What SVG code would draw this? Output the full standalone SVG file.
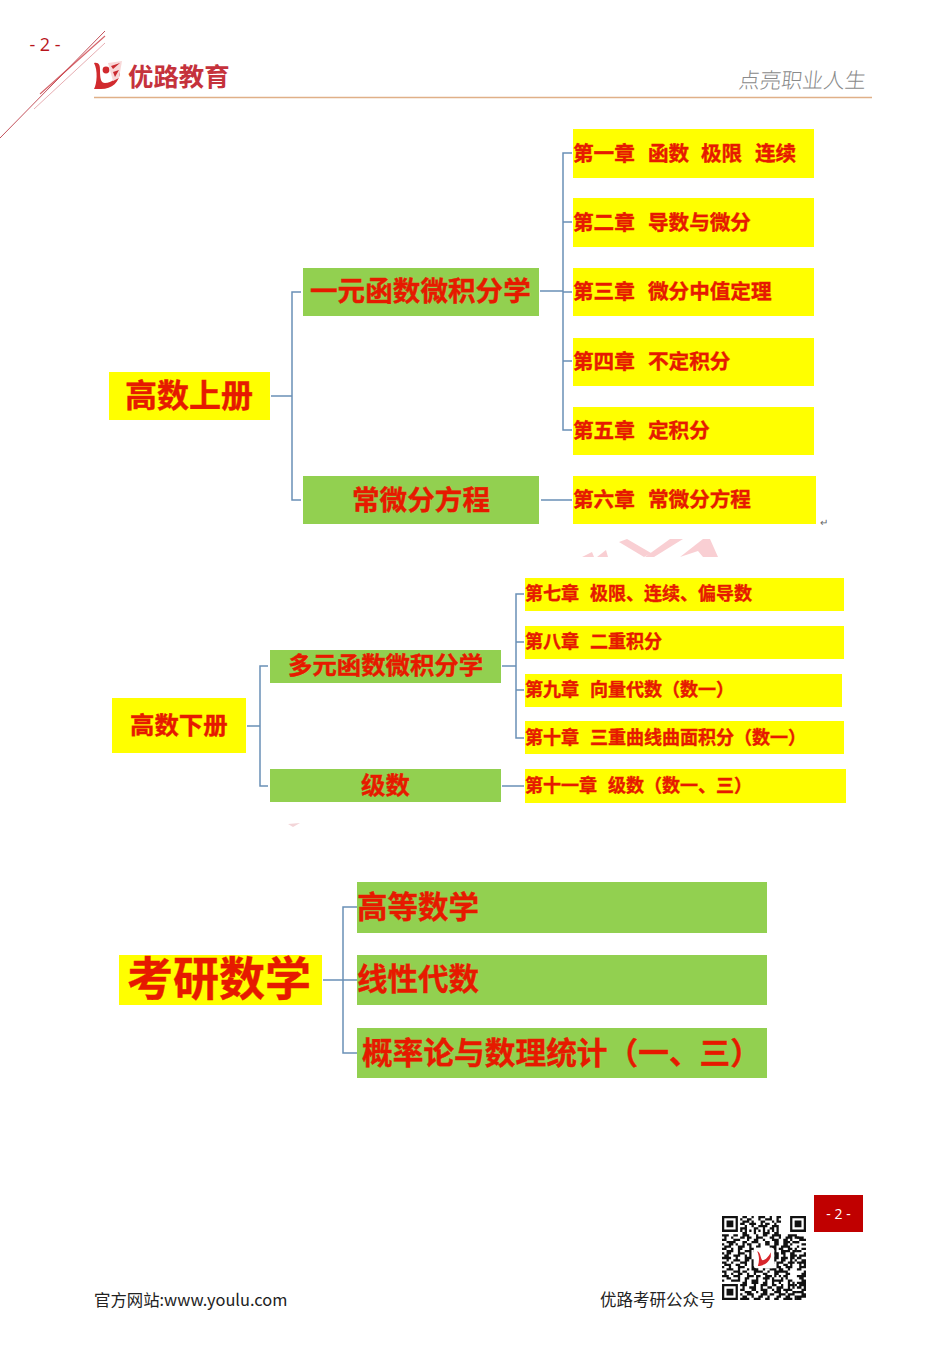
<svg xmlns="http://www.w3.org/2000/svg" width="950" height="1345" viewBox="0 0 950 1345">
<style>
text{font-family:"Noto Sans CJK SC","Noto Sans",sans-serif}
.y{fill:#ffff00}.g{fill:#92d050}
.t{fill:#e61a00;font-weight:700;stroke:#e61a00;stroke-width:.4}
.c{fill:none;stroke:#6a90b6;stroke-width:1.5}
.s20{font-size:20.6px}.s18{font-size:18px}.s24{font-size:24.4px}.s27{font-size:27.6px}.s30{font-size:30.5px}
</style>
<rect width="950" height="1345" fill="#fff"/>
<g id="header">
<text x="45" y="51" text-anchor="middle" font-size="18" fill="#b8141c" style="font-family:'Open Sans',sans-serif">- 2 -</text>
<path d="M0 138L105 31" stroke="#c2505a" stroke-width="1" fill="none"/>
<path d="M40 94L105 36" stroke="#c8323a" stroke-width="1.2" fill="none" opacity=".75"/>
<path d="M34 109L105 43" stroke="#dc8a90" stroke-width="1" fill="none" opacity=".7"/>
<path d="M94 97.500H872" stroke="#e0b088" stroke-width="1.5"/>
<path d="M94 63C99 62 100 65 100 70C100 79 101 83 105 83C112 83 117 78 120 71C120 82 112 89 101 89H94C97 84 98 70 94 63Z" fill="#d12a2e"/>
<circle cx="106" cy="70" r="3.400" fill="#d12a2e"/>
<path d="M108 63L122 61L119 78L113 81Z" fill="#f8d8d8"/>
<path d="M111 66L120 63L113 69ZM113 72L119 70L115 77Z" fill="#c92a30"/>
<text x="128" y="86" font-size="25.400" font-weight="700" fill="#c5323c">优路教育</text>
<text transform="translate(738 88) skewX(-6)" font-size="21.200" font-weight="300" fill="#8a8a8a" style="font-family:'Noto Sans CJK JP',sans-serif">点亮职业人生</text>
</g>
<g id="connectors">
<path class="c" d="M271 396H292M301 292H292V500H301"/>
<path class="c" d="M540 291H563M572 153H563V430H572M563 222H572M563 292H572M563 361H572M541 500H572"/>
<path class="c" d="M247 726H260M268 666H260V786H268"/>
<path class="c" d="M502 666H516M524 594H516V738H524M516 642H524M516 690H524M502 786H524"/>
<path class="c" d="M323 980H357M357 907H343V1053H357"/>
</g>
<g id="n-gs"><rect class="y" x="109" y="372" width="161" height="48"/><text class="t" x="125" y="407" font-size="32">高数上册</text></g>
<g id="n-yy"><rect class="g" x="303" y="268" width="236" height="48"/><text class="t s27" x="310" y="301">一元函数微积分学</text></g>
<g id="n-cw"><rect class="g" x="303" y="476" width="236" height="48"/><text class="t s27" x="352" y="510">常微分方程</text></g>
<g id="n-c1"><rect class="y" x="573" y="129" width="241" height="49"/><text class="t s20" x="573" y="161">第一章<tspan x="648">函数</tspan><tspan x="701">极限</tspan><tspan x="755">连续</tspan></text></g>
<g id="n-c2"><rect class="y" x="573" y="198" width="241" height="49"/><text class="t s20" x="573" y="230">第二章<tspan x="648">导数与微分</tspan></text></g>
<g id="n-c3"><rect class="y" x="573" y="268" width="241" height="48"/><text class="t s20" x="573" y="299">第三章<tspan x="648">微分中值定理</tspan></text></g>
<g id="n-c4"><rect class="y" x="573" y="338" width="241" height="48"/><text class="t s20" x="573" y="369">第四章<tspan x="648">不定积分</tspan></text></g>
<g id="n-c5"><rect class="y" x="573" y="407" width="241" height="48"/><text class="t s20" x="573" y="438">第五章<tspan x="648">定积分</tspan></text></g>
<g id="n-c6"><rect class="y" x="573" y="476" width="243" height="48"/><text class="t s20" x="573" y="507">第六章<tspan x="648">常微分方程</tspan></text></g>
<text x="820" y="526" font-size="10" fill="#666">↵</text>
<path id="watermark" d="M582 557L592 552L594 557ZM597 557L606 550L608 557ZM619 542L627 539L651 553L644 557ZM645 557L670 539H683L654 557ZM680 557L703 539H710L718 557H703L698 551Z" fill="#f9cfd3"/>
<g id="n-gx"><rect class="y" x="112" y="698" width="134" height="55"/><text class="t s24" x="130" y="734">高数下册</text></g>
<g id="n-dy"><rect class="g" x="270" y="650" width="231" height="33"/><text class="t s24" x="288" y="674">多元函数微积分学</text></g>
<g id="n-js"><rect class="g" x="270" y="769" width="231" height="33"/><text class="t s24" x="361" y="794">级数</text></g>
<g id="n-c7"><rect class="y" x="525" y="578" width="319" height="33"/><text class="t s18" x="525" y="600">第七章<tspan x="590">极限、连续、偏导数</tspan></text></g>
<g id="n-c8"><rect class="y" x="525" y="626" width="319" height="33"/><text class="t s18" x="525" y="648">第八章<tspan x="590">二重积分</tspan></text></g>
<g id="n-c9"><rect class="y" x="525" y="674" width="317" height="33"/><text class="t s18" x="525" y="696">第九章<tspan x="590">向量代数（数一）</tspan></text></g>
<g id="n-c10"><rect class="y" x="525" y="721" width="319" height="33"/><text class="t s18" x="525" y="744">第十章<tspan x="590">三重曲线曲面积分（数一）</tspan></text></g>
<g id="n-c11"><rect class="y" x="525" y="769" width="321" height="34"/><text class="t s18" x="525" y="792">第十一章<tspan x="608">级数（数一、三）</tspan></text></g>
<path d="M288 824L300 823L293 827Z" fill="#f3d5d8"/>
<g id="n-ky"><rect class="y" x="119" y="955" width="203" height="50"/><text class="t" x="127" y="995" font-size="46">考研数学</text></g>
<g id="n-gd"><rect class="g" x="357" y="882" width="410" height="51"/><text class="t s30" x="357" y="918">高等数学</text></g>
<g id="n-xx"><rect class="g" x="357" y="955" width="410" height="50"/><text class="t s30" x="357" y="990">线性代数</text></g>
<g id="n-gl"><rect class="g" x="357" y="1028" width="410" height="50"/><text class="t s30" x="362" y="1064" style="font-size:30.700px">概率论与数理统计（一、三）</text></g>
<g id="footer">
<rect x="814" y="1195" width="49" height="37" fill="#c00000"/>
<text x="838.500" y="1219" text-anchor="middle" font-size="14" fill="#fff" style="font-family:'Open Sans',sans-serif">- 2 -</text>
<text x="94" y="1306" font-size="16.400" fill="#222">官方网站:www.youlu.com</text>
<text x="600" y="1306" font-size="16.500" fill="#222">优路考研公众号</text>
<g id="qr" transform="translate(722 1216) scale(2.27)">
<path fill="#111" fill-rule="evenodd" d="M0 0h7v7h-7zM1 1v5h5v-5zM2 2h3v3h-3zM30 0h7v7h-7zM31 1v5h5v-5zM32 2h3v3h-3zM0 30h7v7h-7zM1 31v5h5v-5zM2 32h3v3h-3z"/>
<path fill="none" stroke="#111" d="M9 .5h2m2 0h1m2 0h3m2 0h1m2 0h2
M8 1.5h1m2 0h2m3 0h1m2 0h3m2 0h1
M9 2.5h3m1 0h1m3 0h2m3 0h1m1 0h2
M8 3.5h2m2 0h3m2 0h1m1 0h2m2 0h1
M10 4.5h1m2 0h1m2 0h4m2 0h3
M8 5.5h3m3 0h2m2 0h1m2 0h2m1 0h1
M8 6.5h1m1 0h1m1 0h1m1 0h1m1 0h1m1 0h1m1 0h1m1 0h1m1 0h1
M9 7.5h2m3 0h1m3 0h3m2 0h2
M0 8.5h3m2 0h2m2 0h3m3 0h1m2 0h2m2 0h4m3 0h4
M1 9.5h1m2 0h1m3 0h2m1 0h2m2 0h3m3 0h2m2 0h1m2 0h3m1 0h2
M0 10.5h2m3 0h3m3 0h1m2 0h2m2 0h1m3 0h3m2 0h2m1 0h1
M2 11.5h4m3 0h2m2 0h3m3 0h2m2 0h2m2 0h3m1 0h3
M0 12.5h1m2 0h2m1 0h1m2 0h1m1 0h2m3 0h1m2 0h2m2 0h2m2 0h2m1 0h1
M1 13.5h3m3 0h3m2 0h1m2 0h2m4 0h3m2 0h4
M0 14.5h2m2 0h1m2 0h2m3 0h2m8 0h2m1 0h2m2 0h2m1 0h1
M2 15.5h3m2 0h1m2 0h3m1 0h1m8 0h1m2 0h4m1 0h2
M0 16.5h1m1 0h2m3 0h3m2 0h1m9 0h3m1 0h2m2 0h2
M1 17.5h2m2 0h3m2 0h1m1 0h1m10 0h2m2 0h1m2 0h3
M0 18.5h4m2 0h1m3 0h3m9 0h3m1 0h3m1 0h2
M2 19.5h1m2 0h3m2 0h2m1 0h1m8 0h2m2 0h2m2 0h1m1 0h1
M0 20.5h2m2 0h1m3 0h3m2 0h1m6 0h3m1 0h3m2 0h3
M1 21.5h3m2 0h2m2 0h1m2 0h1m1 0h2m3 0h2m2 0h1m2 0h2m1 0h1
M0 22.5h1m2 0h1m3 0h3m3 0h3m2 0h3m3 0h2m2 0h3
M2 23.5h3m2 0h1m3 0h1m1 0h3m2 0h1m2 0h3m1 0h2m2 0h1
M0 24.5h2m3 0h3m1 0h2m3 0h4m2 0h1m2 0h6
M1 25.5h1m2 0h1m2 0h2m2 0h1m2 0h1m3 0h2m3 0h2m3 0h2
M0 26.5h3m2 0h3m3 0h3m1 0h2m2 0h3m1 0h1m1 0h1m1 0h2
M2 27.5h2m3 0h1m2 0h2m3 0h1m2 0h3m1 0h1m3 0h1m1 0h1
M0 28.5h1m3 0h4m2 0h1m2 0h3m3 0h1m2 0h5m2 0h2
M9 29.5h2m2 0h3m2 0h2m2 0h1m2 0h1m3 0h1m1 0h1
M8 30.5h3m3 0h1m2 0h3m2 0h2m2 0h1m2 0h3
M9 31.5h1m2 0h3m2 0h1m2 0h2m2 0h3m2 0h1m1 0h1
M8 32.5h2m3 0h2m2 0h3m2 0h1m1 0h2m1 0h4
M10 33.5h3m2 0h1m2 0h2m3 0h3m2 0h1m2 0h2
M8 34.5h1m2 0h3m3 0h3m1 0h2m2 0h3m1 0h3
M9 35.5h2m2 0h1m2 0h2m2 0h1m3 0h2m2 0h2m2 0h1
M8 36.5h4m2 0h3m2 0h2m2 0h2m2 0h4m1 0h1"/>
<path fill="none" stroke="#111" d="M33 9.5h3M34 10.5h3M32 11.5h2M35 12.5h2M33 13.5h1M35 14.5h2M33 15.5h2M36 16.5h1M34 17.5h3M33 18.5h2M35 19.5h2M33 20.5h4M34 21.5h1M36 21.5h1M34 22.5h3M33 23.5h2M36 24.5h1M35 25.5h2M33 26.5h4M34 27.5h2M35 28.5h2M33 29.5h4M32 30.5h1M34 30.5h3M33 31.5h2M36 31.5h1M35 32.5h2M33 33.5h3M35 34.5h2M33 35.5h4M33 36.5h2"/>
<rect x="14" y="14" width="9" height="9" rx="1" fill="#fff"/>
<path d="M15.500 15.500C17 15.500 17 19.500 18 19.500C19 19.500 20.500 18 21.500 16L21.500 18C20.500 21 18 22 15.800 22C16.500 20 16.500 17.500 15.500 15.500Z" fill="#d8262c"/>
</g>
</g>
</svg>
